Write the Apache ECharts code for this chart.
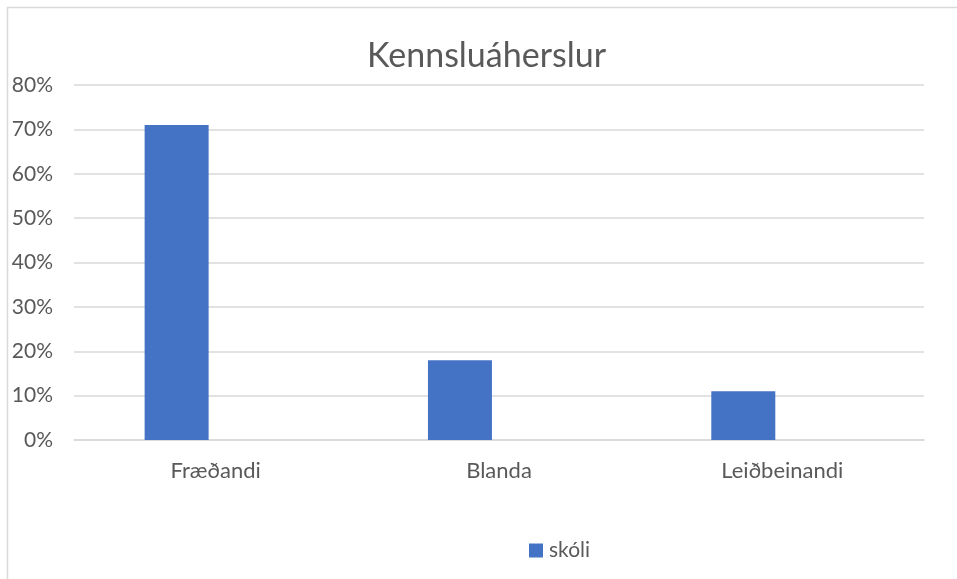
<!DOCTYPE html>
<html>
<head>
<meta charset="utf-8">
<script src="https://cdn.jsdelivr.net/npm/echarts@6/dist/echarts.min.js"></script>
<style>
html,body{margin:0;padding:0;background:#fff;}
#c{width:957px;height:579px;}
</style>
</head>
<body>
<div id="c"></div>
<script>
const categories = ['Fræðandi', 'Blanda', 'Leiðbeinandi'];
const skoliValues = [71, 18, 11];
const emptySeries = [null, null, null];
const yTicks = [0, 10, 20, 30, 40, 50, 60, 70, 80];

const FONT = 'Lato, "Open Sans", sans-serif';
const chart = echarts.init(document.getElementById('c'), null, {renderer: 'canvas'});
chart.setOption({
  animation: false,
  backgroundColor: '#ffffff',
  graphic: [{
    type: 'rect',
    shape: {x: 7.5, y: 7.5, width: 1000, height: 1000},
    style: {fill: 'none', stroke: '#d9d9d9', lineWidth: 1.5},
    silent: true
  }],
  title: {
    text: 'Kennsluáherslur',
    left: 362,
    top: 34,
    textStyle: {fontFamily: FONT, fontSize: 34, fontWeight: 'normal', color: '#595959'}
  },
  legend: {
    data: ['skóli'],
    left: 524,
    top: 535,
    itemWidth: 14,
    itemHeight: 14,
    itemGap: 6,
    icon: 'rect',
    textStyle: {fontFamily: FONT, fontSize: 21, color: '#595959', padding: [0, 0, 0, 1]}
  },
  grid: {left: 74, right: 33, top: 85, bottom: 579 - 440, containLabel: false},
  xAxis: {
    type: 'category',
    data: categories,
    axisTick: {show: false},
    axisLine: {lineStyle: {color: '#d9d9d9', width: 1.5}},
    axisLabel: {fontFamily: FONT, fontSize: 22, color: '#595959', margin: 20}
  },
  yAxis: {
    type: 'value',
    min: yTicks[0],
    max: yTicks[yTicks.length - 1],
    interval: 10,
    axisLine: {show: false},
    axisTick: {show: false},
    splitLine: {lineStyle: {color: '#d9d9d9', width: 1.5}},
    axisLabel: {fontFamily: FONT, fontSize: 21, color: '#595959', margin: 21, formatter: v => v + '%'}
  },
  series: [
    {
      name: 'skóli',
      type: 'bar',
      data: skoliValues,
      barWidth: 64,
      barGap: '22%',
      itemStyle: {color: '#4472c4'}
    },
    {
      name: 'tómt',
      type: 'bar',
      data: emptySeries,
      barWidth: 64,
      itemStyle: {color: '#ed7d31'}
    }
  ]
});
</script>
</body>
</html>
